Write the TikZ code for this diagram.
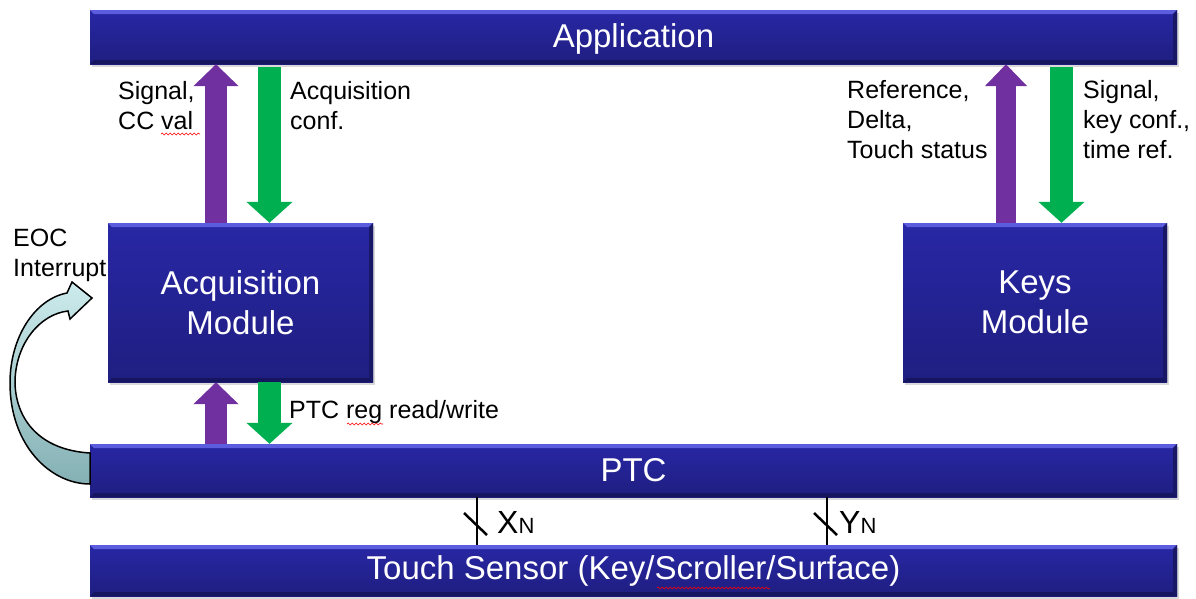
\documentclass[tikz,border=0pt]{standalone}
\usepackage{fontspec}
\setmainfont{Liberation Sans}
\usetikzlibrary{arrows.meta,shadows,decorations.pathmorphing}
\definecolor{bartop}{RGB}{40,39,165}
\definecolor{barbot}{RGB}{31,30,128}
\definecolor{bevlight}{RGB}{92,92,222}
\definecolor{bevdark}{RGB}{22,21,95}
\definecolor{purp}{RGB}{112,48,160}
\definecolor{grn}{RGB}{0,176,80}
\definecolor{cyantop}{RGB}{205,235,236}
\definecolor{cyanbot}{RGB}{132,176,180}
\begin{document}
\begin{tikzpicture}[x=1pt,y=-1pt,
  blk/.style={top color=bartop, bottom color=barbot, text=white,
    font=\fontsize{33}{40}\selectfont, align=center, inner sep=0pt,
    drop shadow={shadow xshift=2pt, shadow yshift=-3pt, opacity=0.3},
    path picture={
      \fill[bevlight] (path picture bounding box.north west) -- (path picture bounding box.north east)
        -- ([shift={(-4pt,-4pt)}]path picture bounding box.north east) -- ([shift={(4pt,-4pt)}]path picture bounding box.north west) -- cycle;
      \fill[bevdark] (path picture bounding box.south west) -- (path picture bounding box.south east)
        -- ([shift={(-4pt,4pt)}]path picture bounding box.south east) -- ([shift={(4pt,4pt)}]path picture bounding box.south west) -- cycle;
      \fill[barbot!80!black] (path picture bounding box.north east) -- (path picture bounding box.south east)
        -- ([shift={(-4pt,4pt)}]path picture bounding box.south east) -- ([shift={(-4pt,-4pt)}]path picture bounding box.north east) -- cycle;
    }},
  fatp/.style={purp, line width=22pt, -{Triangle[length=22pt,width=44pt]}},
  fatpr/.style={purp, line width=20pt, -{Triangle[length=22pt,width=41pt]}},
  fatg/.style={grn, line width=23pt, -{Triangle[length=21pt,width=45pt]}},
  lbl/.style={font=\fontsize{25}{30}\selectfont, align=left, inner sep=0pt, anchor=base west},
  sig/.style={line width=2.5pt, black},
  squig/.style={red, line width=0.6pt, decorate, decoration={snake, amplitude=0.9pt, segment length=4pt}}
]
\useasboundingbox (0,0) rectangle (1196,598);

% blocks
\node[blk, minimum width=1087pt, minimum height=54pt, text depth=2pt] (app) at (633.5,37) {Application};
\node[blk, minimum width=265pt, minimum height=159pt] (acq) at (240.5,302.5) {Acquisition\\Module};
\node[blk, minimum width=264pt, minimum height=159pt] (keys) at (1035,302.5) {Keys\\Module};
\node[blk, minimum width=1087pt, minimum height=53pt] (ptc) at (633.5,470.5) {PTC};
\node[blk, minimum width=1087pt, minimum height=51pt, text depth=5pt] (touch) at (633.5,570.5) {Touch Sensor (Key/Scroller/Surface)};

% arrow columns
\coordinate (pa) at (216,300);
\coordinate (ga) at (269.5,300);
\coordinate (pk) at (1006,300);
\coordinate (gk) at (1061.5,300);

\draw[fatp] (pa |- acq.north) -- (pa |- app.south);
\draw[fatg, shorten <=3pt] (ga |- app.south) -- (ga |- acq.north);
\draw[fatp] (pa |- ptc.north) -- (pa |- acq.south);
\draw[fatg] (ga |- acq.south) -- (ga |- ptc.north);
\draw[fatpr] (pk |- keys.north) -- (pk |- app.south);
\draw[fatg, shorten <=3pt] (gk |- app.south) -- (gk |- keys.north);

% labels (base anchor = last line)
\node[lbl] (l1) at (118,129) {Signal,\\CC val};
\node[lbl] (l2) at (290,129) {Acquisition\\conf.};
\node[lbl] (l3) at (847,158) {Reference,\\Delta,\\Touch status};
\node[lbl] (l4) at (1083,158) {Signal,\\key conf.,\\time ref.};
\node[lbl] (l5) at (289,418) {PTC reg read/write};
\node[lbl] (l6) at (13,276) {EOC\\Interrupt};

% spell-check squiggles
\draw[squig] (161,134) -- (200,134);
\draw[squig] (347,424) -- (383,424);
\draw[squig] (657,588) -- (770,588);

% sensor lines
\coordinate (xl) at (477,520);
\coordinate (yl) at (827,520);
\draw[sig] (xl |- ptc.south) -- (xl |- touch.north);
\draw[sig] (yl |- ptc.south) -- (yl |- touch.north);
\draw[sig] (464,513) -- (487,535);
\draw[sig] (814,513) -- (837,535);
\node[anchor=base west, inner sep=0pt, font=\fontsize{32}{32}\selectfont] (xn) at (497,533) {X{\fontsize{22}{22}\selectfont N}};
\node[anchor=base west, inner sep=0pt, font=\fontsize{32}{32}\selectfont] (yn) at (839,533) {Y{\fontsize{22}{22}\selectfont N}};

% curved EOC arrow
\draw[line width=1.5pt, black, top color=cyantop, bottom color=cyanbot]
  (90,453) .. controls (40,450) and (16,420) .. (15,383)
  .. controls (15,344) and (40,314) .. (68,311)
  -- (70,319) -- (92,298) -- (72,282) -- (67,293)
  .. controls (35,299) and (10,337) .. (10,383)
  .. controls (10,445) and (50,484) .. (90,484) -- cycle;
\end{tikzpicture}
\end{document}
